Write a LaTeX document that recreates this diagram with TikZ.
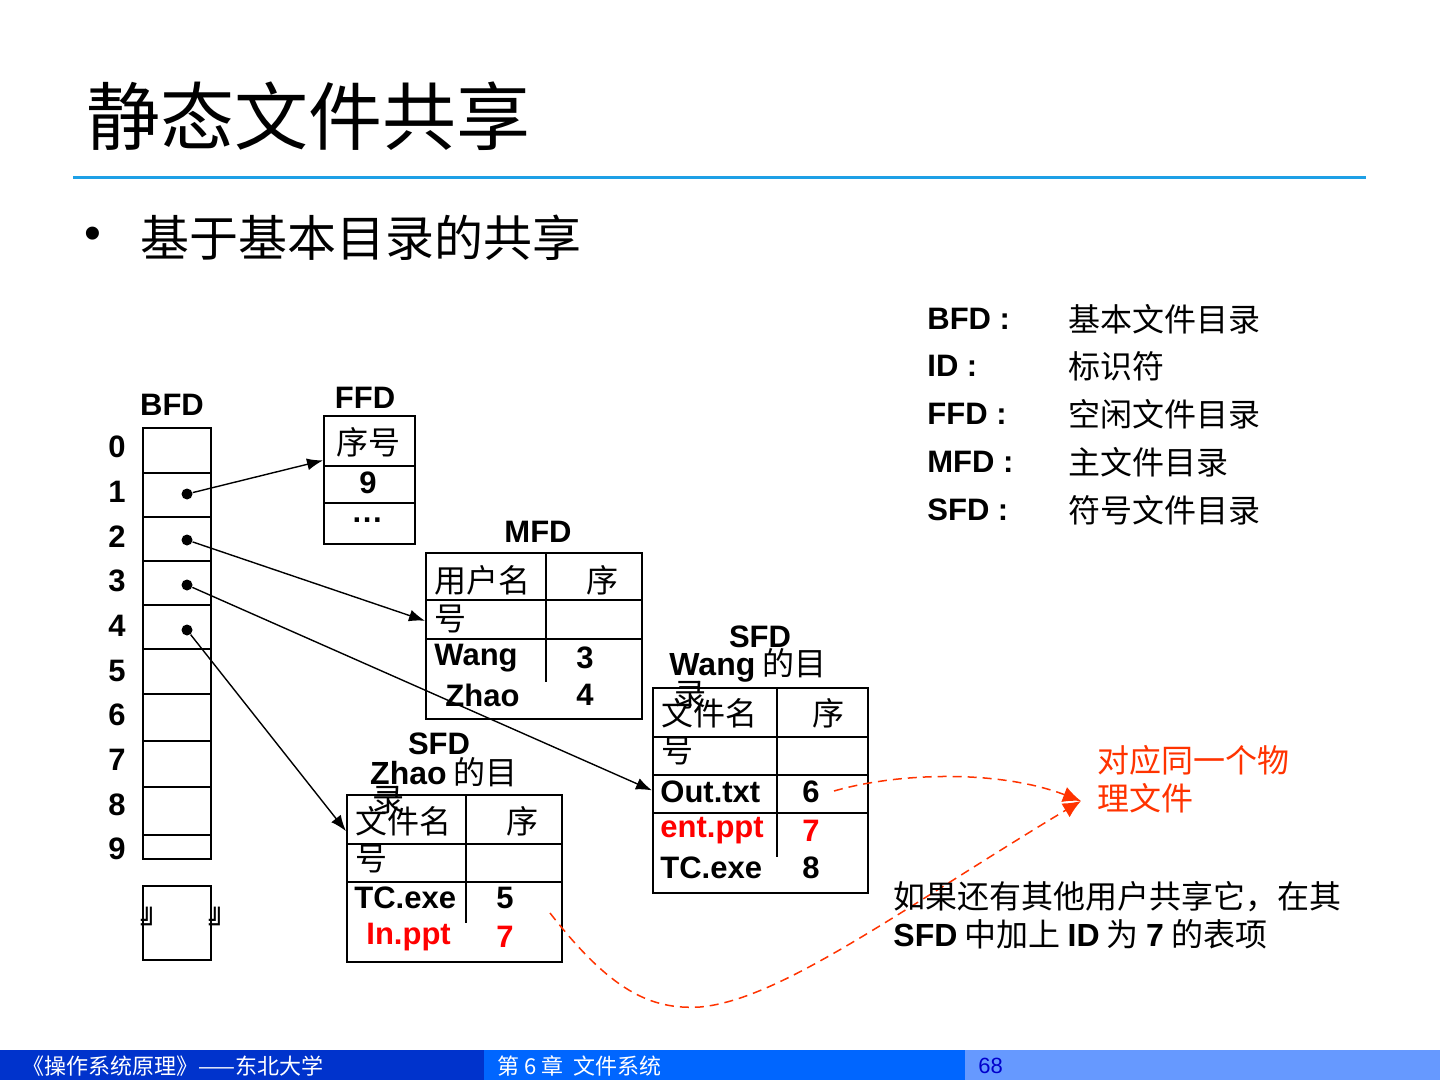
\documentclass[tikz,border=0pt]{standalone}
\usepackage{fontspec}
\setmainfont{Liberation Sans}
\newfontfamily\cjk{Noto Sans CJK SC}
\newfontfamily\dejavu{DejaVu Sans}
\usepackage{tikz}
\usetikzlibrary{arrows.meta,calc}
\definecolor{titleblue}{RGB}{30,160,230}
\definecolor{footdark}{RGB}{0,51,204}
\definecolor{footmid}{RGB}{0,102,255}
\definecolor{footlight}{RGB}{102,153,255}
\definecolor{pagenum}{RGB}{0,0,204}
\definecolor{notered}{RGB}{255,51,0}
\newcommand{\lat}[1]{{\rmfamily\bfseries #1}}

\begin{document}
\begin{tikzpicture}[x=0.5pt,y=-0.5pt,
    lat/.style={font=\fontsize{15.5}{18}\selectfont\bfseries,inner sep=0pt},
    han/.style={font=\fontsize{16}{19}\selectfont\cjk,inner sep=0pt},
    tbl/.style={draw,line width=0.9pt,inner sep=0pt,anchor=north west},
    dot/.style={circle,fill,inner sep=0pt,minimum size=5.5pt},
    ptr/.style={-{Latex[length=8pt,width=6pt]},line width=0.7pt},
    share/.style={notered,line width=0.75pt,dash pattern=on 4.5pt off 3pt,-{Latex[length=9pt,width=8pt]}}]
  \useasboundingbox (0,0) rectangle (1440,1080);
  % title
  \node[anchor=west,inner sep=0pt,font=\fontsize{37}{40}\selectfont\cjk] (title) at (86,116) {静态文件共享};
  \draw[titleblue,line width=1.5pt] (73,178) -- (1366,178);
  \node[inner sep=0pt,font=\fontsize{24}{26}\selectfont] (bul) at (93,238) {•};
  \node[anchor=west,inner sep=0pt,font=\fontsize{24.5}{26}\selectfont\cjk] (sub) at (140,238) {基于基本目录的共享};

  % legend
  \foreach \k/\v/\y in {BFD/基本文件目录/319,ID/标识符/366,FFD/空闲文件目录/414,MFD/主文件目录/462,SFD/符号文件目录/510}{
    \node[lat,anchor=west] (key\k) at (927,\y) {\k\ :};
    \node[han,anchor=west] (val\k) at (1068,\y) {\v};
  }

  % BFD
  \node[lat] (bfdlbl) at (172,405) {BFD};
  \node[tbl,minimum width=34pt,minimum height=215.5pt] (bfd) at (142,427) {};
  \foreach \y in {473,517,561,605,649,694,741,787,835}
    \draw[line width=0.9pt] (142,\y) -- (210,\y);
  \foreach \i in {0,...,9}
    \node[lat] (n\i) at (117,{447+44.7*\i}) {\i};
  \foreach \i/\y in {1/494,2/540,3/585,4/630}
    \node[dot] (d\i) at (187,\y) {};
  \node[tbl,minimum width=34pt,minimum height=37pt] (spare) at (142,885) {};
  \node[inner sep=0pt,font=\fontsize{13}{13}\selectfont\dejavu\bfseries] (g1) at (149,919) {╝};
  \node[inner sep=0pt,font=\fontsize{13}{13}\selectfont\dejavu\bfseries] (g2) at (217,919) {╝};

  % FFD
  \node[lat] (ffdlbl) at (365,398) {FFD};
  \node[tbl,minimum width=45.5pt,minimum height=64pt] (ffd) at (323,415) {};
  \draw[line width=0.9pt] (323,466) -- (414,466) (323,503) -- (414,503);
  \node[han] (ffdh) at (368,442) {序号};
  \node[lat] (ffd9) at (368,483) {9};
  \node[lat] (ffddots) at (368,524) {···};
  \draw[ptr] (d1) -- ($(ffd.north west)!0.35!(ffd.south west)$);

  % MFD
  \node[lat] (mfdlbl) at (538,532) {MFD};
  \node[tbl,minimum width=108pt,minimum height=83pt] (mfd) at (425,552) {};
  \draw[line width=0.9pt] (425,600) -- (641,600) (425,639) -- (641,639);
  \draw[line width=0.9pt] (546,552) -- (546,682);
  \node[han,anchor=west] (mfdh1) at (434,580) {用户名};
  \node[han] (mfdh2) at (602,580) {序};
  \node[han,anchor=west] (mfdh3) at (434,619) {号};
  \node[lat,anchor=west] (mfdwang) at (434,658) {Wang};
  \node[lat] (mfd3) at (585,658) {3};
  \node[lat,anchor=west] (mfdzhao) at (445,695) {Zhao};
  \node[lat] (mfd4) at (585,695) {4};
  \draw[ptr] (d2) -- ($(mfd.north west)!0.41!(mfd.south west)$);

  % SFD of Wang
  \node[lat] (sfdwlbl) at (760,637) {SFD};
  \node[han] (sfdwown) at (748,665) {\lat{Wang} 的目};
  \node[han] (sfdwlu) at (690,695) {录};
  \node[tbl,minimum width=107.5pt,minimum height=102.5pt] (sfdw) at (652,687) {};
  \draw[line width=0.9pt] (652,737) -- (867,737) (652,775) -- (867,775) (652,813) -- (867,813);
  \draw[line width=0.9pt] (777,687) -- (777,857);
  \node[han,anchor=west] (sfdwh1) at (661,713) {文件名};
  \node[han] (sfdwh2) at (828,713) {序};
  \node[han,anchor=west] (sfdwh3) at (661,751) {号};
  \node[lat,anchor=west] (wout) at (660,792) {Out.txt};
  \node[lat] (w6) at (811,792) {6};
  \node[lat,anchor=west,red] (went) at (660,831) {ent.ppt};
  \node[lat,red] (w7) at (811,831) {7};
  \node[lat,anchor=west] (wtc) at (660,868) {TC.exe};
  \node[lat] (w8) at (811,868) {8};
  \draw[ptr] (d3) -- (sfdw.west);

  % SFD of Zhao
  \node[lat] (sfdzlbl) at (439,744) {SFD};
  \node[han] (sfdzown) at (444,772) {\lat{Zhao} 的目};
  \node[han] (sfdzlu) at (388,800) {录};
  \node[tbl,minimum width=107.5pt,minimum height=83.5pt] (sfdz) at (346,794) {};
  \draw[line width=0.9pt] (346,844) -- (561,844) (346,882) -- (561,882);
  \draw[line width=0.9pt] (466,794) -- (466,923);
  \node[han,anchor=west] (sfdzh1) at (355,821) {文件名};
  \node[han] (sfdzh2) at (522,821) {序};
  \node[han,anchor=west] (sfdzh3) at (355,859) {号};
  \node[lat,anchor=west] (ztc) at (354,898) {TC.exe};
  \node[lat] (z5) at (505,898) {5};
  \node[lat,anchor=west,red] (zin) at (366,937) {In.ppt};
  \node[lat,red] (z7) at (505,937) {7};
  \draw[ptr] (d4) -- ($(sfdz.north west)!0.22!(sfdz.south west)$);

  % same physical file
  \node[han,anchor=west,align=left,notered] (phys) at (1097,779) {对应同一个物\\理文件};
  \coordinate (physin) at (1081,801);
  \coordinate (wstart) at (834,791);
  \coordinate (zstart) at (550,913);
  \draw[share] (wstart) .. controls (900,772) and (1000,770) .. (physin);
  \draw[share] (zstart) .. controls (610,990) and (650,1010) .. (700,1007)
                        .. controls (780,1000) and (900,910) .. (physin);
  \node[han,anchor=west,align=left] (note) at (893,915) {如果还有其他用户共享它，在其\\\lat{SFD} 中加上 \lat{ID} 为 \lat{7} 的表项};

  % footer
  \fill[footdark] (0,1050) rectangle (484,1080);
  \fill[footmid] (484,1050) rectangle (965,1080);
  \fill[footlight] (965,1050) rectangle (1440,1080);
  \node[anchor=west,white,inner sep=0pt,font=\fontsize{11}{12}\selectfont\cjk] (foot1) at (22,1066) {《操作系统原理》——东北大学};
  \node[anchor=west,white,inner sep=0pt,font=\fontsize{11}{12}\selectfont\cjk] (foot2) at (497,1066) {第 6 章\ \ 文件系统};
  \node[anchor=west,pagenum,inner sep=0pt,font=\fontsize{11}{12}\selectfont] (foot3) at (978,1066) {68};
\end{tikzpicture}
\end{document}
